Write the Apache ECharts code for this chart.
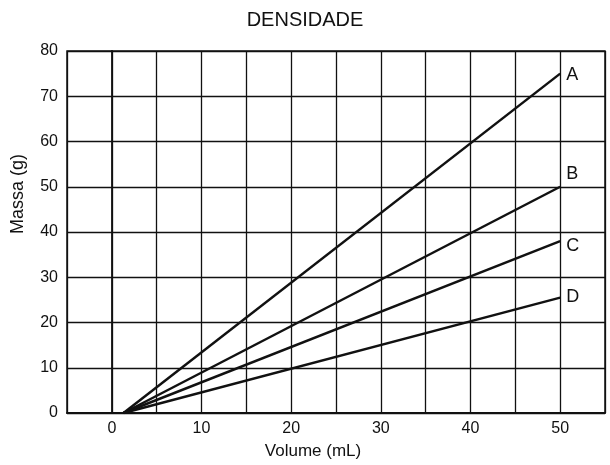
<!DOCTYPE html>
<html><head><meta charset="utf-8">
<script src="https://cdn.jsdelivr.net/npm/echarts@6/dist/echarts.min.js"></script>
<style>html,body{margin:0;padding:0;background:#fff}#c{width:610px;height:465px}</style>
</head><body><div id="c"></div>
<script>
var seriesNames = ['A', 'B', 'C', 'D'];
var startVolume = 1.3;
var endVolume = 50;
var endMass = [75, 50, 38, 25.5];
var xTickLabels = [0, 10, 20, 30, 40, 50];
var labelOffsets = [[4, 1], [4, -13], [4, 5], [4, -1]];

var chart = echarts.init(document.getElementById('c'));
var font = 'Liberation Sans, Arial, sans-serif';
var series = seriesNames.map(function (n, i) {
  return {
    name: n, type: 'line', symbol: 'none', silent: true,
    data: [[startVolume, 0], [endVolume, endMass[i]]],
    lineStyle: { color: '#111', width: 2.5 },
    endLabel: { show: true, formatter: n, color: '#111', fontSize: 18, fontFamily: font, offset: labelOffsets[i], distance: 2 }
  };
});
chart.setOption({
  animation: false,
  title: { text: 'DENSIDADE', left: 'center', top: 5, textStyle: { fontSize: 20, fontWeight: 'normal', color: '#111', fontFamily: font } },
  grid: { left: 67, right: 5, top: 51, bottom: 51, show: true, borderColor: '#111', borderWidth: 1.5 },
  xAxis: {
    type: 'value', min: -5, max: 55, interval: 5,
    name: 'Volume (mL)', nameLocation: 'middle', nameGap: 30,
    nameTextStyle: { fontSize: 17, color: '#111', fontFamily: font, padding: [0, 46, 0, 0] },
    axisLine: { lineStyle: { color: '#111', width: 1.8 } },
    axisTick: { show: false },
    axisLabel: { fontSize: 16, color: '#111', fontFamily: font, margin: 8,
      formatter: function (v) { return xTickLabels.indexOf(v) >= 0 ? String(v) : ''; } },
    splitLine: { show: true, lineStyle: { color: '#111', width: 1.3 } }
  },
  yAxis: {
    type: 'value', min: 0, max: 80, interval: 10,
    name: 'Massa (g)', nameLocation: 'middle', nameGap: 40, nameRotate: 90,
    nameTextStyle: { fontSize: 18, color: '#111', fontFamily: font, padding: [0, 0, 0, 76] },
    axisLine: { show: true, lineStyle: { color: '#111', width: 1.8 } },
    axisTick: { show: false },
    axisLabel: { fontSize: 16, color: '#111', fontFamily: font, margin: 9 },
    splitLine: { show: true, lineStyle: { color: '#111', width: 1.3 } }
  },
  series: series
});
</script></body></html>
